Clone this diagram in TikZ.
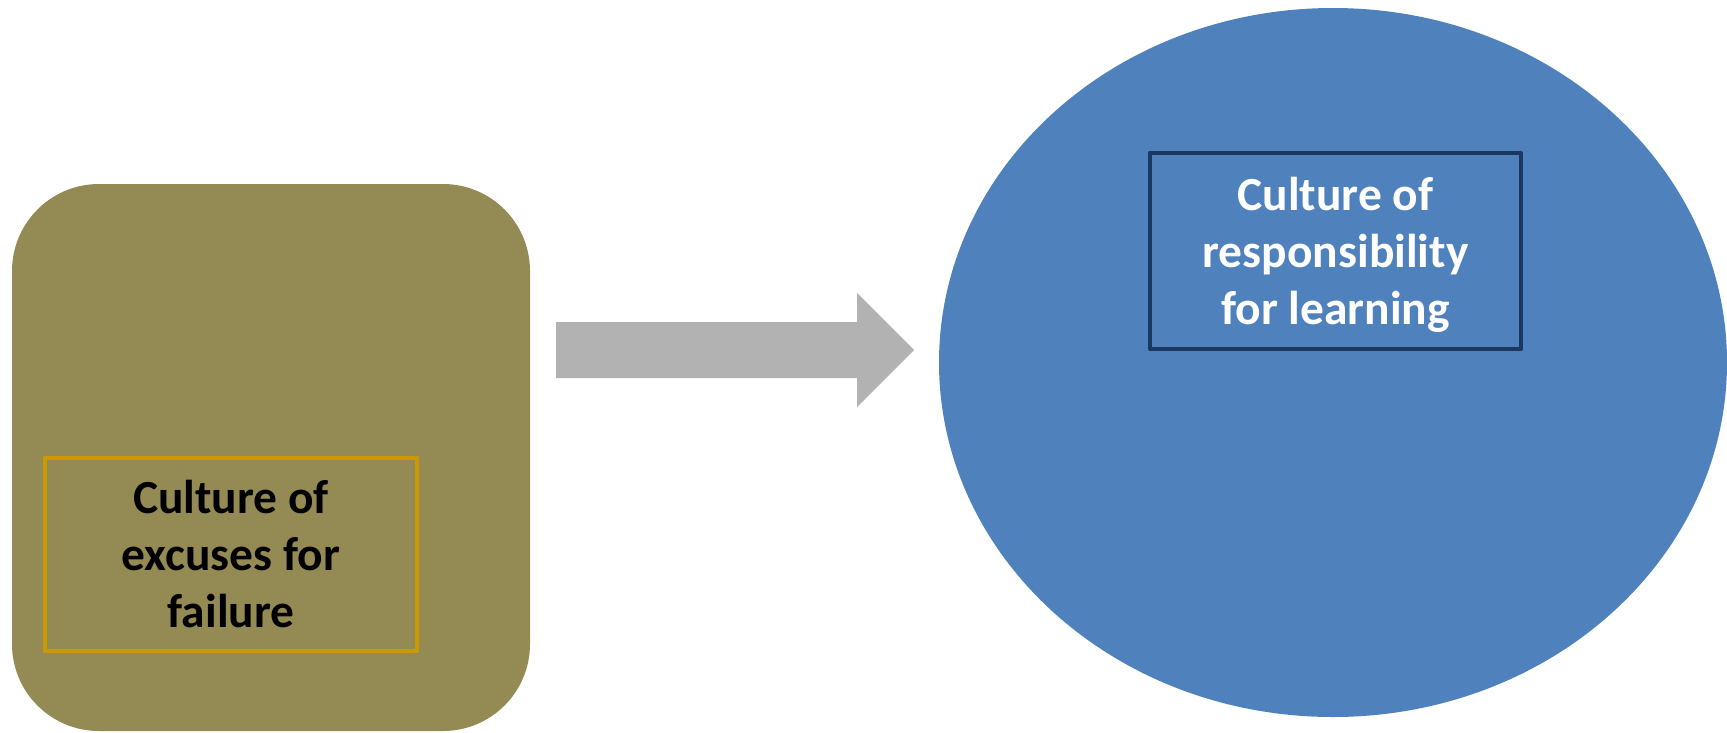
\documentclass[tikz,border=0pt]{standalone}
\usepackage{fontspec}
\setmainfont{Carlito}
\usetikzlibrary{shapes.geometric}

\definecolor{olivebox}{HTML}{948A54}
\definecolor{goldline}{HTML}{CC9900}
\definecolor{bluefill}{HTML}{4F81BD}
\definecolor{navyline}{HTML}{1D3860}
\definecolor{arrowgray}{HTML}{B2B2B2}

\tikzset{
  labeltext/.style={font=\bfseries\fontsize{47.5}{57}\selectfont, align=center, inner sep=0pt},
  framebox/.style={draw, line width=4.5pt, line join=round, rectangle, inner sep=0pt},
}

\begin{document}
\begin{tikzpicture}[x=1pt, y=-1pt]
  \useasboundingbox (0,0) rectangle (1727,732);

  % left rounded block
  \node[rectangle, rounded corners=87pt, fill=olivebox, inner sep=0pt,
        minimum width=518pt, minimum height=547pt] (left) at (271,457.5) {};

  % right oval
  \node[ellipse, fill=bluefill, inner sep=0pt,
        minimum width=788pt, minimum height=709pt] (right) at (1333,362.5) {};

  % framed captions
  \node[framebox, draw=goldline, minimum width=372pt, minimum height=193pt]
        (excbox) at (231,554.5) {};
  \node[labeltext, text=black] (exctext) at (231,554)
        {Culture of\\excuses for\\failure};

  \node[framebox, draw=navyline, minimum width=371pt, minimum height=196pt]
        (respbox) at (1335.5,251) {};
  \node[labeltext, text=white] (resptext) at (1335.5,255)
        {Culture of\\responsibility\\for learning};

  % block arrow between the two shapes
  \coordinate (a0) at (556,322);
  \fill[arrowgray] (a0) -- (857,322) -- (857,293) -- (914,350)
        -- (857,407) -- (857,378) -- (556,378) -- cycle;
\end{tikzpicture}
\end{document}
